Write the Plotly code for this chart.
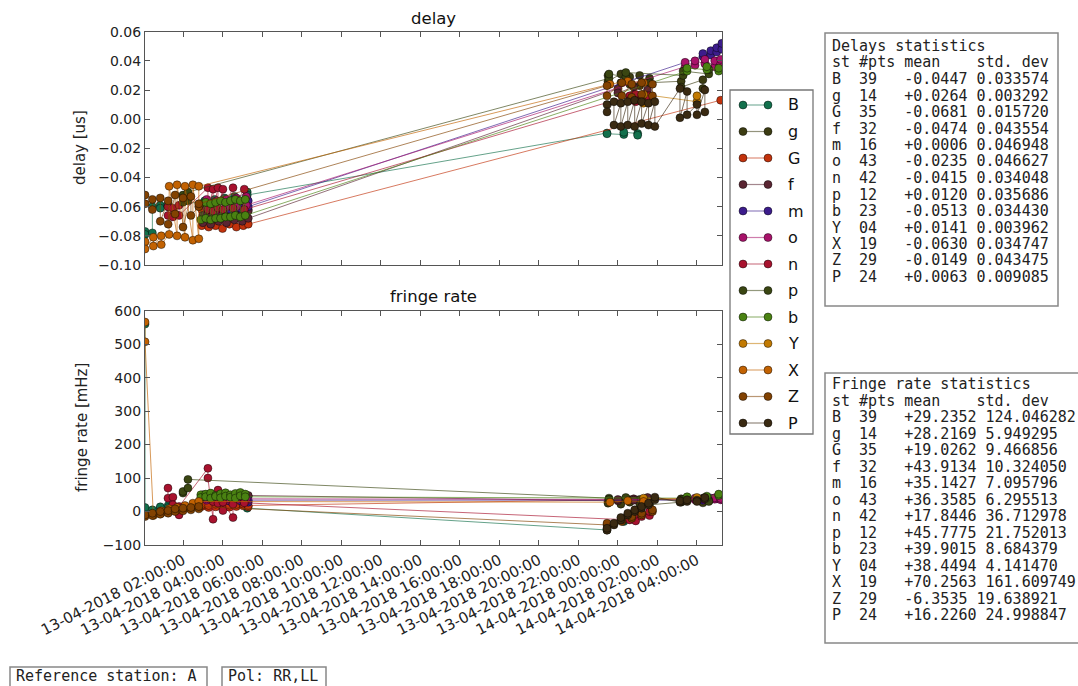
import pandas as pd
import plotly.graph_objects as go

W, H = 1078, 686
BASE = pd.Timestamp("2018-04-13 00:00:00")

stations = ["B", "g", "G", "f", "m", "o", "n", "p", "b", "Y", "X", "Z", "P"]
marker_colors = ["#12704c", "#3c3c12", "#c2320c", "#5a2532", "#3c1c8c", "#a8126a",
                 "#a8122e", "#3a4612", "#4a8212", "#c27a02", "#c26202", "#824202", "#3a2a12"]

# times are hours since 13-04-2018 00:00:00 (two polarisations per scan)
B_t = [0.08, 0.08, 0.45, 0.45, 0.85, 0.85, 1.25, 1.25, 3.1, 3.1, 3.6, 3.6, 4.1, 4.1, 4.6, 4.6, 5.25, 5.25,
       23.45, 23.45, 24.3, 24.3, 25.0, 25.0]
B_delay = [-0.077, -0.079, -0.078, -0.060, -0.059, -0.061, -0.058, -0.060, -0.056, -0.058, -0.055, -0.057,
           -0.054, -0.056, -0.053, -0.055, -0.050, -0.052, -0.0095, -0.010, -0.0105, -0.009, -0.0098, -0.011]
B_rate = [560, 12, -8, 5, 10, 14, 18, 12, 20, 24, 22, 18, 25, 20, 22, 26, 15, 10, -55, -52, -30, -25, -5, 0]

g_t = [23.5, 23.5, 24.15, 24.15, 24.6, 24.6, 25.1, 25.1, 25.6, 25.6, 27.2, 27.2, 28.3, 28.3]
g_delay = [0.030, 0.026, 0.031, 0.025, 0.029, 0.024, 0.030, 0.023, 0.028, 0.025, 0.026, 0.022, 0.027, 0.021]
g_rate = [30, 25, 32, 22, 35, 28, 36, 24, 30, 20, 28, 38, 26, 40]

G_t = [2.95, 2.95, 3.3, 3.3, 3.65, 3.65, 4.0, 4.0, 4.35, 4.35, 4.7, 4.7, 5.05, 5.05, 5.3, 5.3, 29.2]
G_delay = [-0.062, -0.073, -0.063, -0.074, -0.061, -0.073, -0.064, -0.075, -0.062, -0.072, -0.063, -0.074,
           -0.061, -0.073, -0.062, -0.072, 0.013]
G_rate = [15, 20, 12, 18, 14, 22, 16, 20, 13, 19, 15, 21, 17, 22, 14, 18, 40]

f_t = [3.0, 3.0, 3.4, 3.4, 3.8, 3.8, 4.2, 4.2, 4.6, 4.6, 5.0, 5.0, 5.3, 5.3, 24.0, 24.0, 24.8, 24.8, 25.5, 25.5]
f_delay = [-0.066, -0.071, -0.067, -0.072, -0.065, -0.070, -0.066, -0.071, -0.064, -0.069, -0.065, -0.070,
           -0.063, -0.068, 0.021, 0.018, 0.022, 0.017, 0.020, 0.016]
f_rate = [45, 50, 42, 48, 46, 52, 44, 49, 40, 47, 43, 50, 45, 48, 32, 36, 38, 34, 40, 42]

m_t = [4.4, 4.4, 4.9, 4.9, 5.3, 5.3, 28.3, 28.3, 28.7, 28.7, 29.0, 29.0, 29.26, 29.26]
m_delay = [-0.058, -0.062, -0.057, -0.061, -0.056, -0.060, 0.043, 0.045, 0.044, 0.047, 0.046, 0.049, 0.048, 0.052]
m_rate = [30, 36, 32, 38, 28, 34, 34, 38, 36, 40, 38, 42, 36, 45]

o_t = [3.2, 3.2, 3.7, 3.7, 4.2, 4.2, 4.7, 4.7, 5.2, 5.2, 27.4, 27.4, 27.9, 27.9, 28.4, 28.4, 28.9, 28.9, 29.2, 29.2]
o_delay = [-0.055, -0.061, -0.056, -0.062, -0.055, -0.060, -0.054, -0.060, -0.053, -0.059,
           0.036, 0.039, 0.037, 0.040, 0.038, 0.041, 0.036, 0.040, 0.038, 0.041]
o_rate = [34, 38, 36, 40, 33, 37, 35, 39, 34, 38, 36, 38, 35, 40, 36, 38, 37, 41, 35, 39]

n_t = [1.24, 1.24, 1.49, 1.49, 1.8, 1.8, 3.26, 3.26, 3.52, 3.52, 3.77, 3.77, 4.02, 4.02, 4.53, 4.53, 5.1, 5.1,
       24.6, 24.6, 24.9, 24.9, 25.2, 25.2, 25.6, 25.6]
n_delay = [-0.060, -0.066, -0.061, -0.067, -0.059, -0.066, -0.047, -0.062, -0.048, -0.063, -0.047, -0.061,
           -0.048, -0.062, -0.047, -0.061, -0.048, -0.062, 0.016, 0.013, 0.017, 0.012, 0.015, 0.013, 0.016, 0.014]
n_rate = [70, 40, 43, 20, -10, 15, 129, 100, -23, 30, 64, 25, 3, 28, -18, 22, 30, 26,
          -25, -10, -28, -8, -15, -5, -12, 0]

p_t = [2.0, 2.0, 2.25, 2.25, 23.55, 23.55, 24.4, 24.4, 27.3, 27.3, 28.6, 28.6]
p_delay = [-0.052, -0.057, -0.056, -0.050, 0.028, 0.031, 0.029, 0.032, 0.030, 0.033, 0.031, 0.034]
p_rate = [55, 60, 70, 96, 40, 36, 38, 42, 32, 36, 34, 30]

b_t = [2.9, 2.9, 3.15, 3.15, 3.4, 3.4, 3.65, 3.65, 3.9, 3.9, 4.15, 4.15, 4.4, 4.4, 4.65, 4.65, 4.9, 4.9,
       5.15, 5.15, 27.5, 27.5, 28.5, 28.5, 29.1, 29.1]
b_delay = [-0.058, -0.069, -0.057, -0.068, -0.058, -0.069, -0.057, -0.068, -0.056, -0.068, -0.057, -0.067,
           -0.056, -0.067, -0.055, -0.066, -0.056, -0.067, -0.055, -0.066, 0.033, 0.035, 0.034, 0.036, 0.033, 0.035]
b_rate = [50, 42, 52, 44, 55, 40, 48, 45, 53, 41, 56, 46, 50, 43, 54, 40, 57, 47, 52, 44, 40, 44, 42, 46, 48, 52]

Y_t = [25.3, 25.3, 28.0, 28.0]
Y_delay = [0.011, 0.017, 0.012, 0.016]
Y_rate = [35, 40, 36, 42]

X_t = [0.08, 0.08, 0.5, 0.5, 0.9, 0.9, 1.3, 1.3, 1.7, 1.7, 2.1, 2.1, 2.5, 2.5, 2.8, 2.8, 23.6, 24.5, 25.3]
X_delay = [-0.084, -0.089, -0.081, -0.087, -0.080, -0.086, -0.079, -0.046, -0.080, -0.045, -0.081, -0.046,
           -0.083, -0.045, -0.082, -0.046, 0.024, 0.026, 0.025]
X_rate = [566, 507, -12, -8, -5, 2, 0, 8, 5, 12, 10, 18, 15, 25, 20, 30, 28, 32, 30]

Z_t = [0.08, 0.08, 0.45, 0.45, 0.85, 0.85, 1.25, 1.25, 1.6, 1.6, 2.0, 2.0, 2.4, 2.4, 2.8, 2.8,
       23.45, 23.45, 24.2, 24.2, 24.7, 24.7, 25.2, 25.2, 25.75, 25.75]
Z_delay = [-0.052, -0.058, -0.055, -0.062, -0.054, -0.070, -0.056, -0.072, -0.052, -0.065, -0.054, -0.074,
           -0.053, -0.066, -0.060, -0.058, 0.023, 0.016, 0.025, 0.016, 0.024, 0.015, 0.025, 0.017, 0.024, 0.016]
Z_rate = [-15, -10, -12, -5, -8, 0, -5, 3, 0, 8, 2, 10, 5, 12, 8, 15, -40, -35, -30, -25, -20, -15, -10, -5, 0, 5]

P_t = [23.45, 23.45, 23.8, 23.8, 24.15, 24.15, 24.5, 24.5, 24.85, 24.85, 25.2, 25.2, 25.55, 25.55, 25.87, 25.87,
       27.14, 27.14, 27.5, 27.5, 28.0, 28.0, 28.4, 28.4]
P_delay = [0.010, 0.005, 0.012, -0.004, 0.011, -0.005, 0.012, -0.004, 0.013, -0.005, 0.012, -0.003,
           0.011, -0.004, 0.012, -0.005, 0.021, 0.001, 0.019, 0.003, 0.010, 0.003, 0.020, 0.005]
P_rate = [-56, -50, -40, -35, -25, -18, -10, -5, 0, 5, 10, 15, 20, 25, 35, 43, 28, 32, 30, 35, 34, 30, 38, 42]

# statistics tables
stat_npts = ["39", "14", "35", "32", "16", "43", "42", "12", "23", "04", "19", "29", "24"]
delay_mean = [-0.0447, 0.0264, -0.0681, -0.0474, 0.0006, -0.0235, -0.0415, 0.0120, -0.0513, 0.0141, -0.0630, -0.0149, 0.0063]
delay_std = [0.033574, 0.003292, 0.015720, 0.043554, 0.046948, 0.046627, 0.034048, 0.035686, 0.034430,
             0.003962, 0.034747, 0.043475, 0.009085]
rate_mean = [29.2352, 28.2169, 19.0262, 43.9134, 35.1427, 36.3585, 17.8446, 45.7775, 39.9015, 38.4494,
             70.2563, -6.3535, 16.2260]
rate_std = [124.046282, 5.949295, 9.466856, 10.324050, 7.095796, 6.295513, 36.712978, 21.752013, 8.684379,
            4.141470, 161.609749, 19.638921, 24.998847]

x_tick0 = "2018-04-13 02:00:00"
x_range = ["2018-04-13 00:04:40", "2018-04-14 05:16:00"]

series = {
    "B": (B_t, B_delay, B_rate), "g": (g_t, g_delay, g_rate), "G": (G_t, G_delay, G_rate),
    "f": (f_t, f_delay, f_rate), "m": (m_t, m_delay, m_rate), "o": (o_t, o_delay, o_rate),
    "n": (n_t, n_delay, n_rate), "p": (p_t, p_delay, p_rate), "b": (b_t, b_delay, b_rate),
    "Y": (Y_t, Y_delay, Y_rate), "X": (X_t, X_delay, X_rate), "Z": (Z_t, Z_delay, Z_rate),
    "P": (P_t, P_delay, P_rate),
}


def rgba(hexc, a):
    h = hexc.lstrip("#")
    return "rgba(%d,%d,%d,%.2f)" % (int(h[0:2], 16), int(h[2:4], 16), int(h[4:6], 16), a)


def px(x):
    return x / W


def py(y):
    return 1 - y / H


fig = go.Figure()
for st, col in zip(stations, marker_colors):
    t, d, r = series[st]
    xs = BASE + pd.to_timedelta(t, unit="h")
    common = dict(mode="lines+markers", showlegend=False, name=st, hoverinfo="skip",
                  line=dict(color=rgba(col, 0.65), width=1),
                  marker=dict(color=col, size=8, line=dict(color="rgba(0,0,0,0.55)", width=0.8)))
    fig.add_trace(go.Scatter(x=xs, y=d, xaxis="x", yaxis="y", **common))
    fig.add_trace(go.Scatter(x=xs, y=r, xaxis="x2", yaxis="y2", **common))

# legend (drawn in its own small axis, matplotlib style with two markers)
LEG_X0, LEG_X1, LEG_Y0, LEG_Y1 = 730, 813, 90, 434
for i, (st, col) in enumerate(zip(stations, marker_colors)):
    yy = 15 + 26.5 * i
    fig.add_trace(go.Scatter(x=[13, 38], y=[yy, yy], xaxis="x3", yaxis="y3", mode="lines+markers",
                             showlegend=False, hoverinfo="skip",
                             line=dict(color=rgba(col, 0.55), width=1.2),
                             marker=dict(color=col, size=8, line=dict(color="rgba(0,0,0,0.55)", width=0.8))))

axis_common = dict(showgrid=False, zeroline=False, showline=True, mirror="ticks", linecolor="#555555",
                   linewidth=1.2, ticks="inside", ticklen=5, tickcolor="#555555", automargin=False,
                   tickfont=dict(family="DejaVu Sans", size=14, color="#222222"))
xdom = [px(145), px(722)]
fig.update_layout(
    width=W, height=H, margin=dict(l=0, r=0, t=0, b=0, pad=0), autosize=False,
    paper_bgcolor="white", plot_bgcolor="white", showlegend=False,
    xaxis=dict(domain=xdom, anchor="y", type="date", range=x_range, tick0=x_tick0, dtick=7200000,
               showticklabels=False, **axis_common),
    yaxis=dict(domain=[py(265), py(31.7)], anchor="x", range=[-0.10, 0.06], dtick=0.02, tick0=0,
               tickformat=".2f", **axis_common),
    xaxis2=dict(domain=xdom, anchor="y2", type="date", range=x_range, tick0=x_tick0, dtick=7200000,
                tickformat="%d-%m-%Y %H:%M:%S", tickangle=-27, **axis_common),
    yaxis2=dict(domain=[py(545), py(310.7)], anchor="x2", range=[-100, 600], dtick=100, tick0=0,
                **axis_common),
    xaxis3=dict(domain=[px(LEG_X0), px(LEG_X1)], anchor="y3", range=[0, LEG_X1 - LEG_X0], visible=False,
                automargin=False),
    yaxis3=dict(domain=[py(LEG_Y1), py(LEG_Y0)], anchor="x3", range=[LEG_Y1 - LEG_Y0, 0], visible=False,
                automargin=False),
)
fig.update_xaxes(selector=dict(anchor="y2"), tickfont=dict(family="DejaVu Sans", size=15, color="#222222"))

shapes = []
ann = []


def label(text, x, y, size, angle=0, color="#111", family="DejaVu Sans", xanchor="center"):
    ann.append(dict(text=text, x=px(x), y=py(y), xref="paper", yref="paper", showarrow=False,
                    xanchor=xanchor, yanchor="middle", textangle=angle,
                    font=dict(family=family, size=size, color=color)))


label("delay", 433.5, 18, 16.5)
label("fringe rate", 433.5, 297, 16.5)
label("delay [us]", 80, 148, 15, angle=-90, color="#222")
label("fringe rate [mHz]", 82, 428, 15, angle=-90, color="#222")

# legend box and labels
shapes.append(dict(type="rect", xref="paper", yref="paper", x0=px(LEG_X0), x1=px(LEG_X1), y0=py(LEG_Y1),
                   y1=py(LEG_Y0), line=dict(color="#777777", width=1.3), fillcolor="rgba(0,0,0,0)"))
for i, st in enumerate(stations):
    ann.append(dict(text=st, x=56, y=15 + 26.5 * i, xref="x3", yref="y3", xanchor="left", yanchor="middle",
                    showarrow=False, font=dict(family="DejaVu Sans", size=16, color="#111")))

MONO = dict(family="DejaVu Sans Mono", size=15, color="#222222")


def nb(s):
    return s.replace(" ", "\u00a0")


def table(title, means, stds, x0, y_first, box):
    lines = [title, "st #pts mean    std. dev"]
    for st, n, mu, sd in zip(stations, stat_npts, means, stds):
        lines.append("%-3s%-5s%+.4f %f" % (st, n, mu, sd))
    for k, line in enumerate(lines):
        ann.append(dict(text=nb(line), x=px(x0), y=py(y_first + 16.5 * k), xref="paper", yref="paper",
                        xanchor="left", yanchor="middle", showarrow=False, font=MONO))
    shapes.append(dict(type="rect", xref="paper", yref="paper", x0=px(box[0]), x1=px(box[1]),
                       y0=py(box[3]), y1=py(box[2]), line=dict(color="#888888", width=1.5)))


table("Delays statistics", delay_mean, delay_std, 830, 46, (825, 1058, 33, 306))
table("Fringe rate statistics", rate_mean, rate_std, 830, 384, (825, 1095, 373, 643))

# bottom info boxes
for txt, x0, x1 in [("Reference station: A", 10, 207), ("Pol: RR,LL", 222, 326)]:
    shapes.append(dict(type="rect", xref="paper", yref="paper", x0=px(x0), x1=px(x1), y0=py(692), y1=py(667),
                       line=dict(color="#888888", width=1.5)))
    ann.append(dict(text=nb(txt), x=px(x0 + 5), y=py(676), xref="paper", yref="paper", xanchor="left",
                    yanchor="middle", showarrow=False, borderpad=0, font=MONO))

fig.update_layout(shapes=shapes, annotations=ann)
fig.write_html("out.html", config={"displayModeBar": False},
               post_script="document.body.style.margin='0px';document.body.style.overflow='hidden';")
